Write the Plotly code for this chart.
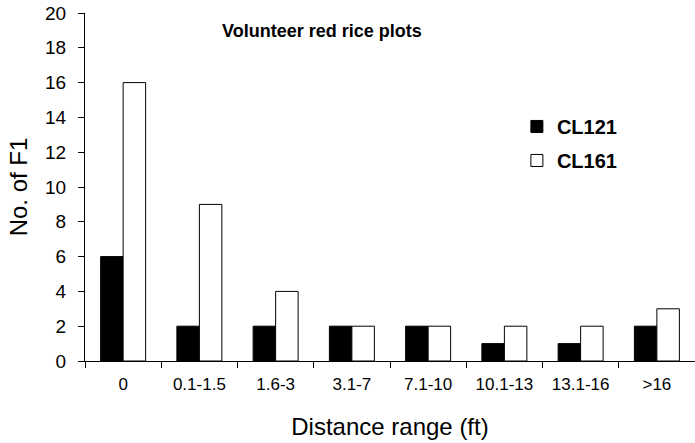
import plotly.graph_objs as go

# data
categories = ['0', '0.1-1.5', '1.6-3', '3.1-7', '7.1-10', '10.1-13', '13.1-16', '>16']
cl121 = [6, 2, 2, 2, 2, 1, 1, 2]
cl161 = [16, 9, 4, 2, 2, 2, 2, 3]
y_ticks = [0, 2, 4, 6, 8, 10, 12, 14, 16, 18, 20]

font_family = 'Liberation Sans, Arial, sans-serif'

data = [
    go.Bar(x=categories, y=cl121, name='CL121', legendgroup='a',
           marker=dict(color='black', line=dict(color='black', width=1))),
    go.Bar(x=categories, y=cl161, name='CL161', legendgroup='b',
           marker=dict(color='white', line=dict(color='black', width=1))),
]

layout = go.Layout(
    width=695, height=443,
    margin=dict(l=85, r=0, t=13, b=82),
    paper_bgcolor='white',
    plot_bgcolor='white',
    font=dict(family=font_family, color='black'),
    barmode='group',
    bargap=0.41,
    bargroupgap=0,
    showlegend=True,
    legend=dict(
        x=0.708, y=0.73, xanchor='left', yanchor='top',
        font=dict(size=20, family=font_family, weight='bold'),
        bgcolor='rgba(0,0,0,0)',
        traceorder='grouped',
        tracegroupgap=5,
        itemwidth=30,
    ),
    annotations=[
        dict(text='<b>Volunteer red rice plots</b>', x=0.389, y=0.948,
             xref='paper', yref='paper', showarrow=False,
             xanchor='center', yanchor='middle',
             font=dict(size=18, family=font_family)),
    ],
    xaxis=dict(
        type='category',
        range=[-0.5, 7.5],
        automargin=False,
        showline=True, linecolor='black', linewidth=1,
        ticks='outside', tickson='boundaries', ticklen=6, tickcolor='black',
        tickfont=dict(size=17),
        ticklabelstandoff=8,
        title=dict(text='Distance range (ft)', font=dict(size=24), standoff=24),
        showgrid=False, zeroline=False,
    ),
    yaxis=dict(
        range=[0, 20],
        tickvals=y_ticks,
        automargin=False,
        showline=True, linecolor='black', linewidth=1,
        ticks='outside', ticklen=6, tickcolor='black',
        tickfont=dict(size=19),
        ticklabelstandoff=8,
        ticklabeloverflow='allow',
        title=dict(text='No. of F1', font=dict(size=24), standoff=10),
        showgrid=False, zeroline=False,
    ),
)

fig = go.Figure(data=data, layout=layout)
# drop the default page margin so the figure sits at the window's corner
fig.write_html('out.html', config={'displayModeBar': False},
               post_script="document.body.style.margin = '0';")
